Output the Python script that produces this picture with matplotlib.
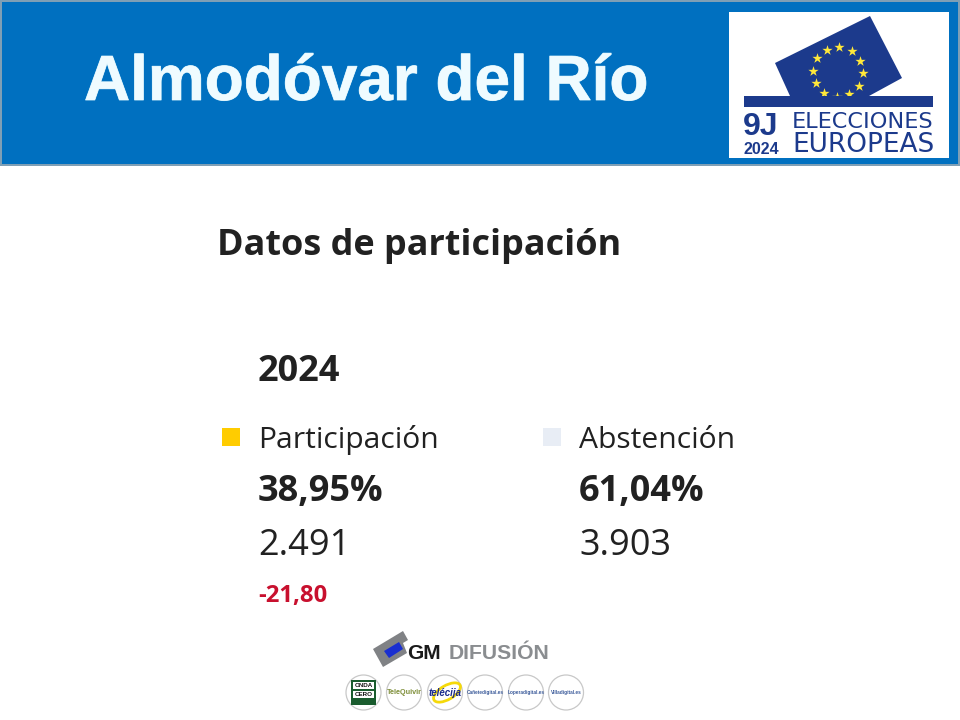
import numpy as np
import matplotlib
matplotlib.use('Agg')
import matplotlib.pyplot as plt
import matplotlib.patheffects as pe
from matplotlib.patches import Rectangle, Polygon, Circle, Ellipse

# datos
municipio = 'Almodóvar del Río'
titulo = 'Datos de participación'
anio = '2024'
categorias = ['Participación', 'Abstención']
porcentajes = ['38,95%', '61,04%']
votos = ['2.491', '3.903']
variacion = '-21,80'
colores = ['#ffcc00', '#e8edf5']
logos = ['', 'TeleQuivir', 'telécija', 'Cañetedigital.es', 'Loperadigital.es', 'Villadigital.es']
logo_colores = ['#1a5c2e', '#7f8f3a', '#1a2a8c', '#3a5a9a', '#3a5a9a', '#3a5a9a']
logo_tam = [5, 5.2, 7, 3.4, 3.4, 3.4]

AZUL = '#0070c0'
AZUL_UE = '#1c3a8c'
TEXTO = '#212121'
FUENTE = 'Open Sans'

fig = plt.figure(figsize=(9.6, 7.2), dpi=100)
ax = fig.add_axes([0, 0, 1, 1])
ax.set_xlim(0, 960)
ax.set_ylim(720, 0)
ax.axis('off')

# cabecera
ax.add_patch(Rectangle((0, 0), 960, 166, fc='#7f9fb5', ec='none'))
ax.add_patch(Rectangle((2, 2), 956, 162, fc=AZUL, ec='none'))
ax.text(84, 100, municipio, family='Liberation Sans', weight='bold', fontsize=46,
        color='#effbff', va='baseline', ha='left',
        path_effects=[pe.withStroke(linewidth=0.6, foreground='#d5f2fb')])

# logo elecciones
ax.add_patch(Rectangle((729, 12), 220, 146, fc='white', ec='none', zorder=2))
ax.add_patch(Polygon([(775, 63), (870, 16), (902, 78), (869, 96), (790, 96)],
                     fc=AZUL_UE, ec='none', zorder=3))
ang = np.deg2rad(np.arange(12) * 30 + 3)
sx = 838 + 25 * np.cos(ang)
sy = 72 + 25 * np.sin(ang)
ax.scatter(sx, sy, marker='*', s=60, c='#ffe83a', linewidths=0, zorder=4)
ax.add_patch(Rectangle((744, 96), 189, 11, fc=AZUL_UE, ec='none', zorder=5))
ax.text(743, 135, '9J', family='Liberation Sans', weight='bold', fontsize=23,
        color=AZUL_UE, va='baseline', zorder=5)
ax.text(744, 154, anio, family='Liberation Sans', weight='bold', fontsize=11.5,
        color=AZUL_UE, va='baseline', zorder=5)
ax.text(792, 128, 'ELECCIONES', family='DejaVu Sans', fontsize=16.1, color=AZUL_UE, va='baseline', zorder=5)
ax.text(792, 152, 'EUROPEAS', family='DejaVu Sans', fontsize=19, color=AZUL_UE, va='baseline', zorder=5)

# bloque de datos
ax.text(217, 255, titulo, family=FUENTE, weight='bold', fontsize=25.9, color=TEXTO, va='baseline')
ax.text(258, 381, anio, family=FUENTE, weight='bold', fontsize=26, color=TEXTO, va='baseline')

col_x = [258, 579]
for i in range(len(categorias)):
    ax.add_patch(Rectangle((col_x[i] - 36, 428), 18, 18, fc=colores[i], ec='none'))
    ax.text(col_x[i], 448, categorias[i], family=FUENTE, fontsize=21.6, color=TEXTO, va='baseline')
    ax.text(col_x[i], 501, porcentajes[i], family=FUENTE, weight='bold', fontsize=26, color=TEXTO, va='baseline')
    ax.text(col_x[i], 555, votos[i], family=FUENTE, fontsize=26, color=TEXTO, va='baseline')
ax.text(258, 602, variacion, family=FUENTE, weight='bold', fontsize=17.2, color='#c8102e', va='baseline')

# pie: GM Difusion
ax.add_patch(Polygon([(373, 649), (403, 631), (408, 640), (403, 643), (407, 653), (383, 667)],
                     fc='#808285', ec='none'))
ax.add_patch(Polygon([(384, 651), (399, 642), (403, 649), (389, 658)], fc='#1a2fd0', ec='none'))
ax.text(407, 659, 'GM', family='Liberation Sans', weight='bold', fontsize=15, color='#1a1a1a', va='baseline')
ax.text(449, 659, 'DIFUSIÓN', family='Liberation Sans', weight='bold', fontsize=15.2, color='#8a8d90', va='baseline')

# pie: logos de medios
logo_x = [363.5, 404, 445, 485, 526, 566]
for i in range(len(logos)):
    ax.add_patch(Circle((logo_x[i], 692.5), 17.5, fc='white', ec='#c8c8c8', lw=0.9))
    if i == 2:
        ax.add_patch(Ellipse((logo_x[i] + 2, 692.5), 30, 14, angle=-30, fc='none', ec='#f5d90a', lw=2))
    if logos[i]:
        ax.text(logo_x[i], 692.5, logos[i], family='Liberation Sans', weight='bold',
                fontsize=logo_tam[i], color=logo_colores[i], ha='center', va='center',
                style='italic' if i == 2 else 'normal')
# onda cero
ax.add_patch(Rectangle((351, 680), 25, 25, fc=logo_colores[0], ec='none', zorder=3))
ax.add_patch(Rectangle((353, 682), 21, 7, fc='white', ec='none', zorder=3))
ax.add_patch(Rectangle((353, 691), 21, 7, fc='white', ec='none', zorder=3))
ax.text(363.5, 685.5, 'ONDA', family='Liberation Sans', weight='bold', fontsize=4.5, color='#111111',
        ha='center', va='center', zorder=4)
ax.text(363.5, 694.5, 'CERO', family='Liberation Sans', weight='bold', fontsize=4.5, color='#111111',
        ha='center', va='center', zorder=4)

fig.savefig('out.png', dpi=100)
